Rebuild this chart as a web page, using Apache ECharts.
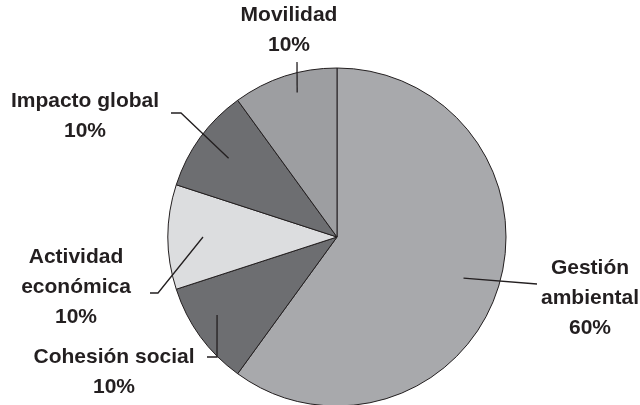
<!DOCTYPE html>
<html>
<head>
<meta charset="utf-8">
<script src="https://cdn.jsdelivr.net/npm/echarts@6/dist/echarts.min.js"></script>
<style>
  html, body { margin: 0; padding: 0; background: #ffffff; }
  #chart { width: 640px; height: 405px; }
</style>
</head>
<body>
<div id="chart"></div>
<script>
// Sector names and their shares (percent)
const sectors = ['Gestión ambiental', 'Cohesión social', 'Actividad económica', 'Impacto global', 'Movilidad'];
const shares = [60, 10, 10, 10, 10];
// Names that are written over two lines
const twoLineNames = ['Gestión ambiental', 'Actividad económica'];

// Styling
const sliceColors = ['#a8a9ac', '#6d6e71', '#dcdddf', '#6d6e71', '#9d9ea1'];
const ink = '#231f20';
const pieCenter = [337, 237];
const pieRadius = 169;

// Label placement and leader-line layout for each sector:
// tipR / tipTurn place the inner end of the leader (radius, degrees off the sector middle),
// path lists the outer elbow points in pixels.
const labelSpots = [
  { x: 590, y: 298, tipR: 133, tipTurn: 0,   path: [[537, 284]] },
  { x: 114, y: 372, tipR: 143, tipTurn: 3,   path: [[217, 357], [207, 357]] },
  { x: 76,  y: 287, tipR: 134, tipTurn: 0,   path: [[158, 293], [150, 293]] },
  { x: 85,  y: 116, tipR: 134, tipTurn: 0,   path: [[181, 113], [171, 113]] },
  { x: 289, y: 30,  tipR: 150, tipTurn: 2.6, path: [[297, 62]] }
];

const total = shares.reduce((a, b) => a + b, 0);

// Middle angle of a sector, clockwise from 12 o'clock, in radians
function midAngle(i) {
  let before = 0;
  for (let k = 0; k < i; k++) before += shares[k];
  return (before + shares[i] / 2) / total * 2 * Math.PI;
}

// Leader lines, drawn above the sectors
const leaders = labelSpots.map((spot, i) => {
  const a = midAngle(i) + spot.tipTurn * Math.PI / 180;
  const tip = [pieCenter[0] + spot.tipR * Math.sin(a), pieCenter[1] - spot.tipR * Math.cos(a)];
  return {
    type: 'polyline',
    z: 100,
    silent: true,
    shape: { points: [tip].concat(spot.path) },
    style: { stroke: ink, lineWidth: 1.3, fill: null }
  };
});

const chart = echarts.init(document.getElementById('chart'), null, { renderer: 'canvas' });

chart.setOption({
  animation: false,
  backgroundColor: '#ffffff',
  graphic: { elements: leaders },
  series: [{
    type: 'pie',
    center: pieCenter,
    radius: pieRadius,
    startAngle: 90,
    clockwise: true,
    silent: true,
    emphasis: { disabled: true, scale: false },
    data: sectors.map((name, i) => ({
      name: name,
      value: shares[i],
      itemStyle: { color: sliceColors[i] }
    })),
    itemStyle: { borderColor: ink, borderWidth: 1 },
    label: {
      show: true,
      position: 'outside',
      overflow: 'none',
      formatter: (p) => {
        const name = twoLineNames.includes(p.name) ? p.name.replace(' ', '\n') : p.name;
        return name + '\n' + Math.round(p.percent) + '%';
      },
      fontFamily: 'Liberation Sans, Arial, sans-serif',
      fontWeight: 'bold',
      fontSize: 21,
      lineHeight: 30,
      color: ink,
      align: 'center'
    },
    labelLine: { show: false },
    labelLayout: (params) => {
      const spot = labelSpots[params.dataIndex];
      return {
        x: spot.x,
        y: spot.y,
        align: 'center',
        verticalAlign: 'middle'
      };
    }
  }]
});
</script>
</body>
</html>
